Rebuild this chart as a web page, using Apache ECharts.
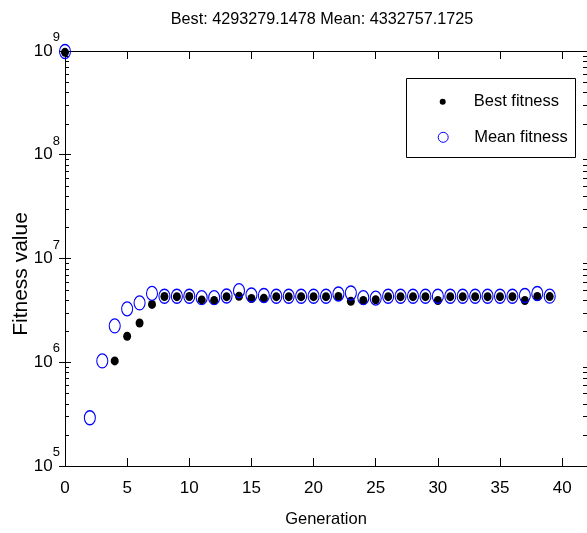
<!DOCTYPE html>
<html><head><meta charset="utf-8">
<script src="https://cdn.jsdelivr.net/npm/echarts@6/dist/echarts.min.js"></script>
<style>html,body{margin:0;padding:0;background:#fff}#c{width:587px;height:533px}</style>
</head><body><div id="c"></div>
<script>
const titleText = 'Best: 4293279.1478 Mean: 4332757.1725';
const generations = [0,1,2,3,4,5,6,7,8,9,10,11,12,13,14,15,16,17,18,19,20,21,22,23,24,25,26,27,28,29,30,31,32,33,34,35,36,37,38,39];
const bestFitness = [9.7e8,null,null,null,1.03e6,1.78e6,2.39e6,3.61e6,4.30e6,4.29e6,4.30e6,3.99e6,3.94e6,4.29e6,4.33e6,4.12e6,4.15e6,4.29e6,4.29e6,4.29e6,4.29e6,4.29e6,4.30e6,3.87e6,3.94e6,4.0e6,4.29e6,4.29e6,4.29e6,4.29e6,3.94e6,4.29e6,4.29e6,4.29e6,4.29e6,4.29e6,4.29e6,3.94e6,4.30e6,4293279.1478];
const meanFitness = [9.9e8,null,2.92e5,1.03e6,2.24e6,3.27e6,3.73e6,4.61e6,4.33e6,4.33e6,4.33e6,4.19e6,4.19e6,4.35e6,4.9e6,4.45e6,4.4e6,4.33e6,4.33e6,4.33e6,4.33e6,4.33e6,4.55e6,4.65e6,4.19e6,4.15e6,4.33e6,4.33e6,4.33e6,4.33e6,4.33e6,4.33e6,4.33e6,4.33e6,4.33e6,4.33e6,4.33e6,4.4e6,4.6e6,4332757.1725];
const xTicks = [0,5,10,15,20,25,30,35,40];
const yDecades = [1e5,1e6,1e7,1e8,1e9];
const seriesNames = ['Best fitness','Mean fitness'];
const xLabel = 'Generation';
const yLabel = 'Fitness value';

const FONT = "'Liberation Sans', Arial, sans-serif";
const FS = 16.5;
const X_MIN = 0, X_MAX = 42;

// minor tick values (2..9 x each decade) – axis decoration
const minorTickValues = [];
for (let i = 0; i < yDecades.length - 1; i++) {
  for (let m = 2; m <= 9; m++) minorTickValues.push(m * yDecades[i]);
}

const toPairs = arr => generations.map((g, i) => [g, arr[i]]).filter(d => d[1] != null);

const chart = echarts.init(document.getElementById('c'), null, {renderer: 'canvas'});
const axisLineStyle = {color: '#000', width: 1};
const yLabelCfg = {
  margin: 5,
  formatter: v => '{b|10}{s|' + Math.round(Math.log10(v)) + '}',
  rich: {
    b: {fontFamily: FONT, fontSize: 17, lineHeight: 40, color: '#000'},
    s: {fontFamily: FONT, fontSize: 13, lineHeight: 13, color: '#000', verticalAlign: 'top'}
  }
};

chart.setOption({
  animation: false,
  backgroundColor: '#fff',
  title: {
    text: titleText, left: 322, top: 12, textAlign: 'center', padding: 0,
    textStyle: {fontFamily: FONT, fontSize: 16.2, fontWeight: 'normal', color: '#000'}
  },
  grid: {left: 65, top: 51, width: 522, height: 420, containLabel: false},
  xAxis: [
    {
      type: 'value', min: X_MIN, max: X_MAX, position: 'bottom',
      axisLine: {show: true, lineStyle: axisLineStyle},
      axisTick: {show: true, inside: true, length: 8, customValues: xTicks, lineStyle: axisLineStyle},
      axisLabel: {customValues: xTicks, color: '#000', fontFamily: FONT, fontSize: 17, margin: 14},
      splitLine: {show: false},
      name: xLabel, nameLocation: 'middle', nameGap: 45,
      nameTextStyle: {fontFamily: FONT, fontSize: FS, color: '#000'}
    },
    {
      type: 'value', min: X_MIN, max: X_MAX, position: 'top',
      axisLine: {show: true, lineStyle: axisLineStyle},
      axisTick: {show: true, inside: true, length: 8, customValues: xTicks, lineStyle: axisLineStyle},
      axisLabel: {show: false},
      splitLine: {show: false}
    }
  ],
  yAxis: [
    {
      type: 'log', logBase: 10, min: yDecades[0], max: yDecades[yDecades.length - 1], position: 'left',
      axisLine: {show: true, lineStyle: axisLineStyle},
      axisTick: {show: true, inside: true, length: 6, lineStyle: axisLineStyle},
      axisLabel: yLabelCfg,
      splitLine: {show: false}
    },
    {
      type: 'log', logBase: 10, min: yDecades[0], max: yDecades[yDecades.length - 1], position: 'right',
      axisLine: {show: false},
      axisTick: {show: true, inside: true, length: 6, lineStyle: axisLineStyle},
      axisLabel: {show: false},
      splitLine: {show: false}
    }
  ],
  legend: [
    {
      data: [{name: seriesNames[0], icon: 'circle', itemStyle: {color: '#000', borderWidth: 0, opacity: 1}}],
      left: 439.7, top: 91.7, orient: 'vertical', padding: 0,
      itemWidth: 6, itemHeight: 6, symbolKeepAspect: false, z: 10,
      textStyle: {fontFamily: FONT, fontSize: FS, color: '#000', lineHeight: 20, padding: [0, 0, 0, 23]}
    },
    {
      data: [{name: seriesNames[1], icon: 'circle', itemStyle: {color: 'rgba(0,0,0,0)', borderColor: '#0000ff', borderWidth: 1, opacity: 1}}],
      left: 437.7, top: 127.3, orient: 'vertical', padding: 0,
      itemWidth: 10, itemHeight: 12, symbolKeepAspect: false, z: 10,
      textStyle: {fontFamily: FONT, fontSize: FS, color: '#000', lineHeight: 20, padding: [0, 0, 0, 21]}
    }
  ],
  graphic: [
    {type: 'rect', z: 5, shape: {x: 406.5, y: 78.5, width: 169, height: 79},
     style: {fill: '#fff', stroke: '#000', lineWidth: 1}},
    {type: 'text', z: 5, x: 21, y: 274, rotation: Math.PI / 2,
     style: {text: yLabel, fontSize: 21, fontFamily: FONT, fill: '#000',
             align: 'center', verticalAlign: 'middle'}}
  ],
  series: [
    {
      type: 'custom', name: 'minorTicks', xAxisIndex: 0, yAxisIndex: 0, silent: true, clip: false, z: 1,
      data: minorTickValues.map(v => [X_MIN, v]),
      renderItem: (params, api) => {
        const v = api.value(1);
        const pl = api.coord([X_MIN, v]);
        const pr = api.coord([X_MAX, v]);
        const y = Math.round(pl[1]) + 0.5;
        return {type: 'group', children: [
          {type: 'line', shape: {x1: pl[0], y1: y, x2: pl[0] + 4, y2: y}, style: {stroke: '#000', lineWidth: 1}},
          {type: 'line', shape: {x1: pr[0] - 4, y1: y, x2: pr[0], y2: y}, style: {stroke: '#000', lineWidth: 1}}
        ]};
      }
    },
    {
      type: 'scatter', name: seriesNames[0], clip: false, z: 3,
      symbol: 'circle', symbolSize: [8, 9],
      itemStyle: {color: '#000', opacity: 1},
      data: toPairs(bestFitness)
    },
    {
      type: 'scatter', name: seriesNames[1], clip: false, z: 4,
      symbol: 'circle', symbolSize: [11, 14],
      itemStyle: {color: 'rgba(0,0,0,0)', borderColor: '#0000ff', borderWidth: 1.2, opacity: 1},
      data: toPairs(meanFitness)
    }
  ]
});
</script>
</body></html>
